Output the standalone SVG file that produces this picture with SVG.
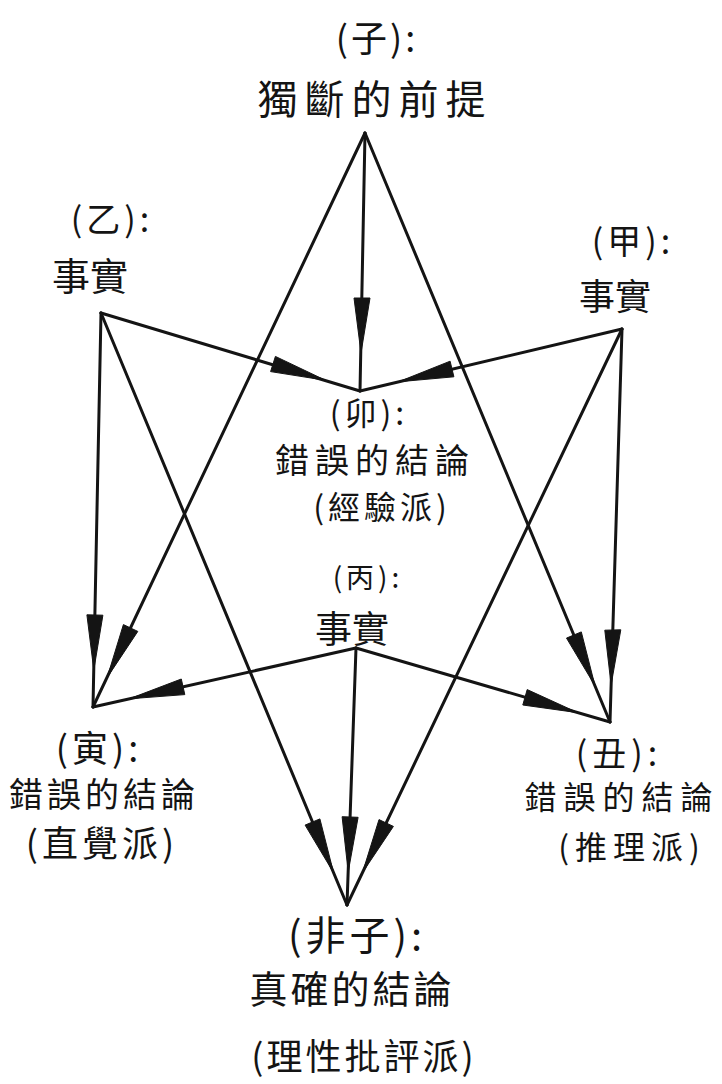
<svg xmlns="http://www.w3.org/2000/svg" width="722" height="1084" viewBox="0 0 722 1084">
<style>
.bg{fill:#ffffff}
.ln{stroke:#141414;stroke-width:3;stroke-linecap:round;fill:none}
.ah{fill:#141414;stroke:#141414;stroke-width:1;stroke-linejoin:round}
text{font-family:"Noto Sans CJK TC","Noto Sans CJK SC",sans-serif;fill:#141414;text-anchor:middle}
</style>
<rect class="bg" x="0" y="0" width="722" height="1084"/>
<g id="connectors">
  <line class="ln" x1="365" y1="133" x2="360" y2="391"/>
  <line class="ln" x1="365" y1="133" x2="93" y2="707"/>
  <line class="ln" x1="365" y1="133" x2="610" y2="722"/>
  <line class="ln" x1="101" y1="313" x2="360" y2="391"/>
  <line class="ln" x1="101" y1="313" x2="93" y2="707"/>
  <line class="ln" x1="101" y1="313" x2="347" y2="905"/>
  <line class="ln" x1="622" y1="329" x2="360" y2="391"/>
  <line class="ln" x1="622" y1="329" x2="610" y2="722"/>
  <line class="ln" x1="622" y1="329" x2="347" y2="905"/>
  <line class="ln" x1="356" y1="648" x2="93" y2="707"/>
  <line class="ln" x1="356" y1="648" x2="610" y2="722"/>
  <line class="ln" x1="356" y1="648" x2="347" y2="905"/>
  <polygon class="ah" points="354,298 370,298 361,353"/>
  <polygon class="ah" points="270.6,371.6 275.4,356.4 325.5,380.3"/>
  <polygon class="ah" points="450.1,361.2 453.9,376.8 398.5,381.8"/>
  <polygon class="ah" points="123.4,624.6 137.8,631.4 107.1,677.7"/>
  <polygon class="ah" points="86.9,614.8 102.9,615.2 93.8,670"/>
  <polygon class="ah" points="181.3,679 184.8,694.6 129.3,698.8"/>
  <polygon class="ah" points="566.5,638.1 581.3,631.9 595,685.8"/>
  <polygon class="ah" points="604.8,630.2 620.8,629.8 611.1,685"/>
  <polygon class="ah" points="522.8,705 527.2,689.6 577.8,712.7"/>
  <polygon class="ah" points="305.1,825.1 319.9,818.9 333.6,872.8"/>
  <polygon class="ah" points="342.1,816.7 358.1,817.3 348.2,872"/>
  <polygon class="ah" points="379,819.6 393.4,826.4 362.5,872.6"/>
</g>
<g id="zi">
  <text x="377" y="52" font-size="36" letter-spacing="3">(子):</text>
  <text x="375" y="114" font-size="40" letter-spacing="7">獨斷的前提</text>
</g>
<g id="yi">
  <text x="112" y="232" font-size="34" letter-spacing="4">(乙):</text>
  <text x="90" y="290" font-size="38">事實</text>
</g>
<g id="jia">
  <text x="633" y="254" font-size="34" letter-spacing="4">(甲):</text>
  <text x="615" y="310" font-size="36">事實</text>
</g>
<g id="mao">
  <text x="369" y="425" font-size="32" letter-spacing="4">(卯):</text>
  <text x="375" y="473" font-size="34" letter-spacing="6">錯誤的結論</text>
  <text x="382" y="519" font-size="32" letter-spacing="4">(經驗派)</text>
</g>
<g id="bing">
  <text x="368" y="588" font-size="28" letter-spacing="4">(丙):</text>
  <text x="352" y="643" font-size="37">事實</text>
</g>
<g id="yin">
  <text x="99" y="762" font-size="36" letter-spacing="4">(寅):</text>
  <text x="104" y="807" font-size="34" letter-spacing="4">錯誤的結論</text>
  <text x="102" y="857" font-size="36" letter-spacing="4">(直覺派)</text>
</g>
<g id="chou">
  <text x="619" y="766" font-size="34" letter-spacing="5">(丑):</text>
  <text x="622" y="809" font-size="32" letter-spacing="7">錯誤的結論</text>
  <text x="632" y="859" font-size="32" letter-spacing="6">(推理派)</text>
</g>
<g id="feizi">
  <text x="357" y="950" font-size="40" letter-spacing="4">(非子):</text>
  <text x="352" y="1003" font-size="38" letter-spacing="3">真確的結論</text>
  <text x="364" y="1070" font-size="36" letter-spacing="3">(理性批評派)</text>
</g>
</svg>
